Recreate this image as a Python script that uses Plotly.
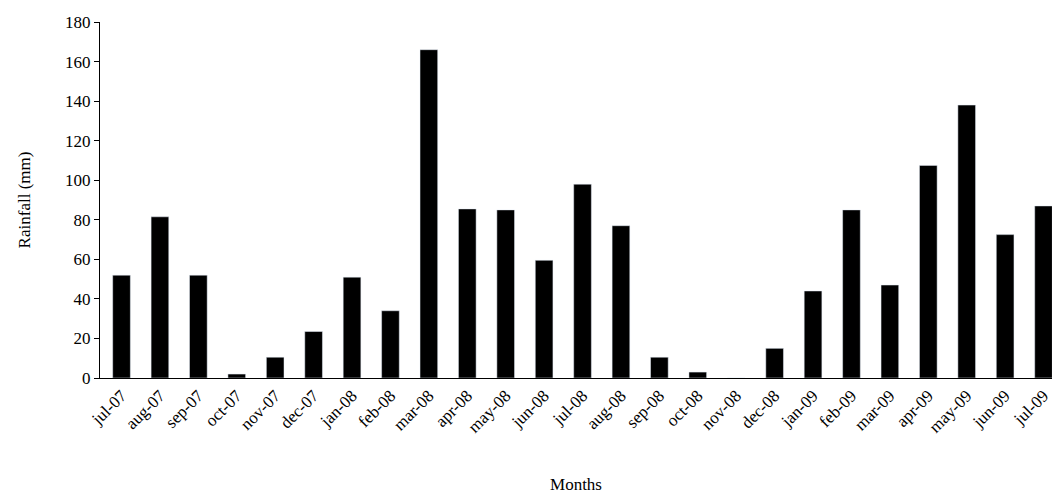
import plotly.graph_objects as go

months = ["jul-07", "aug-07", "sep-07", "oct-07", "nov-07", "dec-07", "jan-08", "feb-08",
          "mar-08", "apr-08", "may-08", "jun-08", "jul-08", "aug-08", "sep-08", "oct-08",
          "nov-08", "dec-08", "jan-09", "feb-09", "mar-09", "apr-09", "may-09", "jun-09", "jul-09"]
rainfall = [52, 81.5, 52, 2, 10.5, 23.5, 51, 34, 166, 85.5, 85, 59.5, 98, 77, 10.5, 3,
            0, 15, 44, 85, 47, 107.5, 138, 72.5, 87]

fig = go.Figure(go.Bar(x=list(range(len(months))), y=rainfall, marker_color="black", width=0.46))

font = dict(family="Liberation Serif", size=17, color="black")
fig.update_layout(
    width=1050, height=495,
    margin=dict(l=92, r=6, t=14, b=125),
    plot_bgcolor="white", paper_bgcolor="white",
    font=font, showlegend=False,
    xaxis=dict(
        range=[-0.56, 24.22], tickmode="array", tickvals=list(range(len(months))),
        ticktext=months, tickangle=-45, showline=True, linecolor="black",
        showgrid=False, ticks="", zeroline=False,
        title=dict(text="Months", font=font, standoff=42),
    ),
    yaxis=dict(
        range=[0, 180], dtick=20, showline=True, linecolor="black",
        showgrid=False, ticks="outside", ticklen=5, tickcolor="black", zeroline=False,
        title=dict(text="Rainfall (mm)", font=font, standoff=30),
    ),
)
fig.write_html("out.html")
